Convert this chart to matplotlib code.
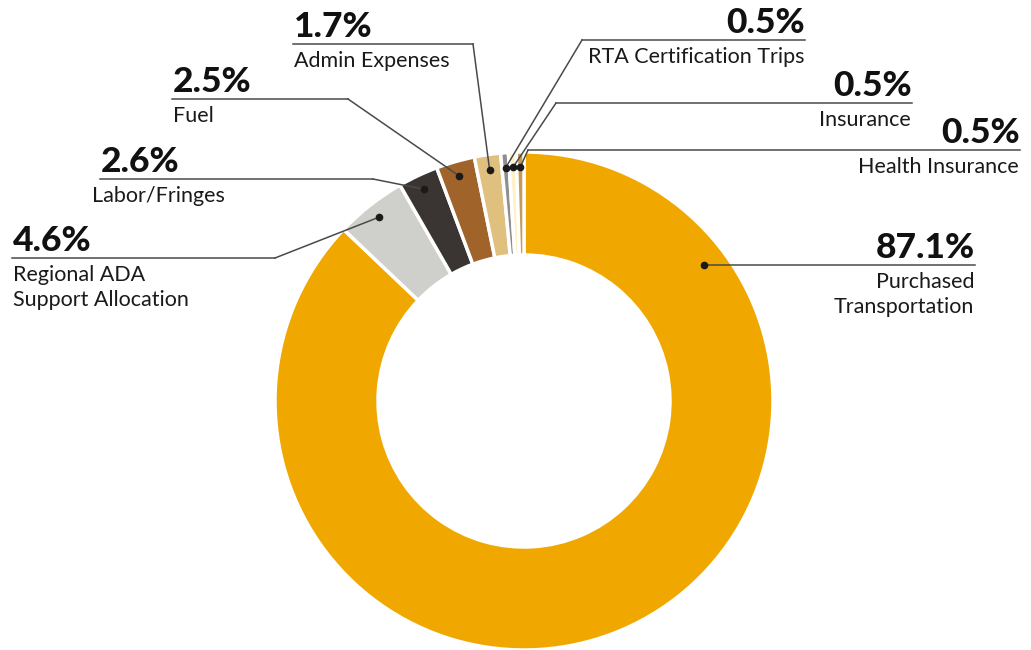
import numpy as np
import matplotlib.pyplot as plt

# data (clockwise from 12 o'clock)
names = ["Purchased\nTransportation", "Regional ADA\nSupport Allocation", "Labor/Fringes",
         "Fuel", "Admin Expenses", "RTA Certification Trips", "Insurance", "Health Insurance"]
shares = [87.1, 4.6, 2.6, 2.5, 1.7, 0.5, 0.5, 0.5]
pct_labels = ["87.1%", "4.6%", "2.6%", "2.5%", "1.7%", "0.5%", "0.5%", "0.5%"]
colors = ["#F0A800", "#CFCFCB", "#3A3533", "#A0642A", "#DFC07E", "#8E8E8E", "#FDF1C6", "#C49A5A"]

W, H = 1031, 650
def Y(y):
    return H - y

fig = plt.figure(figsize=(W / 100, H / 100), dpi=100)
ax = fig.add_axes([0, 0, 1, 1])

cx, cy, R, ring = 524, 401, 249, 103
wedges, _ = ax.pie(shares, colors=colors, startangle=90, counterclock=False,
                   center=(cx, Y(cy)), radius=R, frame=True,
                   wedgeprops=dict(width=ring, edgecolor="white", linewidth=2.5))
ax.set_xlim(0, W)
ax.set_ylim(0, H)
ax.axis("off")

# label layout in pixels
layout = [
    dict(ly=265, x0=704, x1=975, side="r", ex=704),
    dict(ly=258, x0=12, x1=275, side="l", ex=275),
    dict(ly=179, x0=100, x1=373, side="l", ex=373, nx=92),
    dict(ly=99, x0=172, x1=348, side="l", ex=348),
    dict(ly=44, x0=293, x1=473, side="l", ex=473),
    dict(ly=40, x0=582, x1=805, side="r", ex=582),
    dict(ly=103, x0=556, x1=912, side="r", ex=556),
    dict(ly=150, x0=528, x1=1020, side="r", ex=528),
]
dot_r = 234
pct_font = dict(family="Lato", weight="black", size=25.5, color="#111111")
name_font = dict(family="Lato", size=15.5, color="#1a1a1a")

for w, lay, pl, nm in zip(wedges, layout, pct_labels, names):
    ang = np.deg2rad((w.theta1 + w.theta2) / 2)
    if nm.startswith("Purchased"):
        dx, dy = cx + 180, Y(265)
    else:
        dx, dy = cx + dot_r * np.cos(ang), Y(cy) + dot_r * np.sin(ang)
    ly = Y(lay["ly"])
    ax.plot([lay["x0"], lay["x1"]], [ly, ly], color="#4a4a4a", lw=1.1)
    ax.plot([lay["ex"], dx], [ly, dy], color="#4a4a4a", lw=1.1)
    ax.plot(dx, dy, "o", color="#1a1a1a", ms=4.5)
    if lay["side"] == "l":
        ax.text(lay["x0"] + 1, ly + 7, pl, ha="left", va="baseline", **pct_font)
        ax.text(lay.get("nx", lay["x0"] + 1), ly - 7, nm, ha="left", va="top",
                linespacing=1.3, **name_font)
    else:
        ax.text(lay["x1"], ly + 7, pl, ha="right", va="baseline", **pct_font)
        ax.text(lay["x1"] - 1, ly - 7, nm, ha="right", va="top",
                linespacing=1.3, **name_font)

fig.savefig("out.png", dpi=100, facecolor="white")
